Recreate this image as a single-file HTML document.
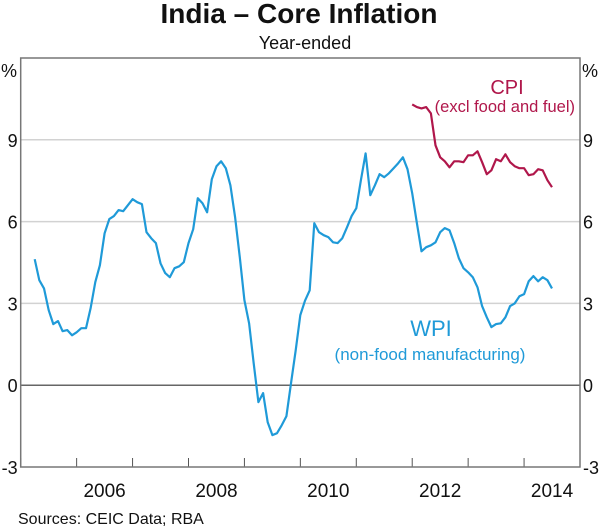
<!DOCTYPE html>
<html><head><meta charset="utf-8"><style>
body{margin:0;background:#fff;}
svg{display:block;font-family:"Liberation Sans",Arial,sans-serif;}
</style></head><body>
<svg width="600" height="528">
<text x="299" y="23" text-anchor="middle" font-size="28" font-weight="bold" fill="#111">India – Core Inflation</text>
<text x="305" y="49" text-anchor="middle" font-size="18" fill="#111">Year-ended</text>
<g id="grid"></g>
<g id="series"></g>
<rect x="20.7" y="58" width="559.3" height="409" fill="none" stroke="#777" stroke-width="1.5"/>
<text x="1" y="77" font-size="18" fill="#111">%</text>
<text x="582" y="77" font-size="18" fill="#111">%</text>
<text x="507" y="94" text-anchor="middle" font-size="20" fill="#b0174b">CPI</text>
<text x="575" y="112" text-anchor="end" font-size="16.5" fill="#b0174b">(excl food and fuel)</text>
<text x="431" y="336" text-anchor="middle" font-size="22" fill="#1f9ad8">WPI</text>
<text x="430" y="360" text-anchor="middle" font-size="17" fill="#1f9ad8">(non-food manufacturing)</text>
<text x="18" y="524" font-size="16" fill="#111">Sources:  CEIC Data; RBA</text>
</svg>
<script>
const yTicks = [-3, 0, 3, 6, 9];
const xYears = [2005,2006,2007,2008,2009,2010,2011,2012,2013,2014,2015];
const xLabels = [2006, 2008, 2010, 2012, 2014];
const wpiStart = 2005 + 3/12;
const wpiValues = [4.62,3.85,3.55,2.75,2.24,2.35,1.98,2.02,1.83,1.94,2.09,2.09,2.82,3.78,4.4,5.57,6.09,6.2,6.42,6.38,6.6,6.82,6.71,6.64,5.61,5.39,5.21,4.47,4.11,3.96,4.29,4.36,4.51,5.21,5.72,6.86,6.67,6.34,7.55,8.03,8.21,7.96,7.33,6.16,4.69,3.12,2.27,0.8,-0.62,-0.29,-1.36,-1.83,-1.76,-1.47,-1.14,0.07,1.28,2.57,3.1,3.48,5.94,5.61,5.5,5.43,5.24,5.21,5.39,5.79,6.2,6.49,7.52,8.5,6.97,7.33,7.74,7.63,7.77,7.96,8.14,8.36,7.92,7.04,5.94,4.91,5.06,5.13,5.24,5.61,5.76,5.68,5.21,4.66,4.29,4.14,3.96,3.59,2.9,2.49,2.13,2.24,2.27,2.49,2.9,3.0,3.26,3.34,3.81,4.0,3.81,3.96,3.85,3.55];
const cpiStart = 2005 + 84/12;
const cpiValues = [10.3,10.2,10.15,10.2,9.97,8.8,8.36,8.21,7.99,8.21,8.21,8.18,8.43,8.43,8.58,8.18,7.74,7.88,8.29,8.21,8.47,8.18,8.03,7.96,7.96,7.7,7.74,7.92,7.88,7.52,7.26];

const NS="http://www.w3.org/2000/svg";
const X0=20.7,X1=580,T0=2005,T1=2015,Y0=467,Y1=58,V0=-3,V1=12;
function xs(t){return X0+(t-T0)/(T1-T0)*(X1-X0);}
function ys(v){return Y0-(v-V0)/(V1-V0)*(Y0-Y1);}
function mk(tag,attrs,parent){const e=document.createElementNS(NS,tag);for(const k in attrs)e.setAttribute(k,attrs[k]);parent.appendChild(e);return e;}
const grid=document.getElementById('grid');
yTicks.forEach(v=>{
  const y=ys(v);
  if(v>-3){
    const l=mk('line',{x1:X0,x2:X1,y1:y,y2:y,stroke:v===0?'#666':'#d2d2d2','stroke-width':1.5},grid);
    
    
  }
  const a=mk('text',{x:X0-3,y:y+7,'text-anchor':'end','font-size':18,fill:'#111'},grid);a.textContent=v;
  
  
  const b=mk('text',{x:X1+3,y:y+7,'font-size':18,fill:'#111'},grid);b.textContent=v;
  
  
});
xYears.forEach(t=>{
  const x=xs(t);
  const l=mk('line',{x1:x,x2:x,y1:Y0,y2:Y0-9,stroke:'#555','stroke-width':1},grid);
  
  
});
xLabels.forEach(t=>{
  const tx=mk('text',{x:xs(t+0.5),y:497,'text-anchor':'middle','font-size':19,fill:'#111'},grid);tx.textContent=t;
  
  
});
const sg=document.getElementById('series');
function line(start,vals,color,name){
  const pts=vals.map((v,i)=>xs(start+i/12).toFixed(1)+','+ys(v).toFixed(1)).join(' ');
  const p=mk('polyline',{points:pts,fill:'none',stroke:color,'stroke-width':2.2,'stroke-linejoin':'round'},sg);
  
  
}
line(wpiStart,wpiValues,'#1f9ad8','wpi-line');
line(cpiStart,cpiValues,'#b0174b','cpi-line');
</script>
</body></html>
